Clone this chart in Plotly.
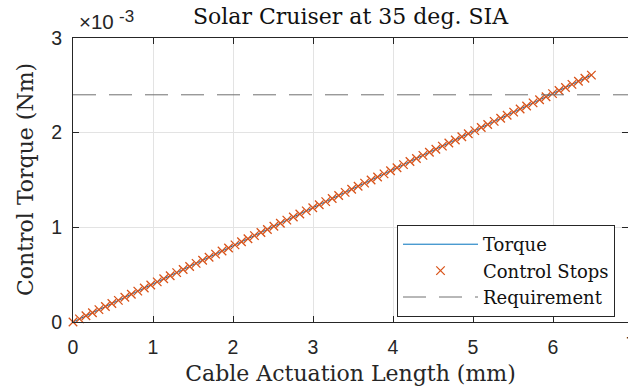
import plotly.graph_objects as go

# Cable actuation length (mm) at each control stop
cable_length_mm = [
    0.000, 0.081, 0.162, 0.243, 0.324, 0.405, 0.486, 0.567, 0.648, 0.729,
    0.810, 0.891, 0.972, 1.053, 1.134, 1.215, 1.296, 1.377, 1.458, 1.539,
    1.620, 1.701, 1.782, 1.863, 1.944, 2.025, 2.106, 2.187, 2.268, 2.349,
    2.430, 2.511, 2.592, 2.673, 2.754, 2.835, 2.916, 2.997, 3.078, 3.159,
    3.240, 3.321, 3.402, 3.483, 3.564, 3.645, 3.726, 3.807, 3.888, 3.969,
    4.050, 4.131, 4.212, 4.293, 4.374, 4.455, 4.536, 4.617, 4.698, 4.779,
    4.860, 4.941, 5.022, 5.103, 5.184, 5.265, 5.346, 5.427, 5.508, 5.589,
    5.670, 5.751, 5.832, 5.913, 5.994, 6.075, 6.156, 6.237, 6.318, 6.399,
    6.480,
]

# Control torque in units of 1e-3 Nm
torque_e3_nm = [
    0.0000, 0.0326, 0.0652, 0.0978, 0.1304, 0.1630, 0.1956, 0.2282, 0.2608, 0.2934,
    0.3260, 0.3586, 0.3912, 0.4238, 0.4564, 0.4890, 0.5216, 0.5542, 0.5868, 0.6194,
    0.6520, 0.6846, 0.7172, 0.7498, 0.7824, 0.8150, 0.8476, 0.8802, 0.9128, 0.9454,
    0.9780, 1.0106, 1.0432, 1.0758, 1.1084, 1.1410, 1.1736, 1.2062, 1.2388, 1.2714,
    1.3040, 1.3366, 1.3692, 1.4018, 1.4344, 1.4670, 1.4996, 1.5322, 1.5648, 1.5974,
    1.6300, 1.6626, 1.6952, 1.7278, 1.7604, 1.7930, 1.8256, 1.8582, 1.8908, 1.9234,
    1.9560, 1.9886, 2.0212, 2.0538, 2.0864, 2.1190, 2.1516, 2.1842, 2.2168, 2.2494,
    2.2820, 2.3146, 2.3472, 2.3798, 2.4124, 2.4450, 2.4776, 2.5102, 2.5428, 2.5754,
    2.6080,
]

requirement_e3_nm = 2.4
x_range = [0, 6.9375]
x_ticks = [0, 1, 2, 3, 4, 5, 6]
y_ticks = [0, 1, 2, 3]
y_tick_text = ["0", "1", "2", "3"]

SERIF = "DejaVu Serif"
SANS = "Liberation Sans, Arial, sans-serif"
AX = "#262626"
GRID = "#e3e3e3"
TICK_SIZE = 19.5

PLOT_W = 628 - 73
PLOT_H = 392 - 38 - 70

fig = go.Figure()

fig.add_trace(go.Scatter(
    x=cable_length_mm, y=torque_e3_nm, mode="lines", name="Torque",
    line=dict(color="#0072BD", width=1),
))
fig.add_trace(go.Scatter(
    x=cable_length_mm, y=torque_e3_nm, mode="markers", name="Control Stops",
    marker=dict(symbol="x-thin", size=8.5, line=dict(color="#D95319", width=1.3)),
    cliponaxis=False,
))
fig.add_trace(go.Scatter(
    x=x_range, y=[requirement_e3_nm, requirement_e3_nm], mode="lines",
    name="Requirement",
    line=dict(color="#707070", width=1, dash="23px,13px"),
))

fig.update_layout(
    width=628, height=392,
    margin=dict(l=73, r=0, t=38, b=70),
    paper_bgcolor="white", plot_bgcolor="white",
    font=dict(family=SANS, size=TICK_SIZE, color=AX),
    showlegend=True,
    legend=dict(
        x=0.5838, y=0.3415, xanchor="left", yanchor="top",
        bgcolor="white", bordercolor=AX, borderwidth=1,
        font=dict(family=SERIF, size=18, color="#111111"),
        itemwidth=75, tracegroupgap=0,
    ),
)

fig.update_xaxes(
    range=x_range, tickvals=x_ticks,
    showgrid=True, gridcolor=GRID, gridwidth=1, zeroline=False,
    showline=True, linecolor=AX, linewidth=1, mirror="ticks",
    ticks="inside", ticklen=6, tickcolor=AX, ticklabelstandoff=8,
    tickfont=dict(family=SANS, size=TICK_SIZE, color=AX),
    title=dict(text="Cable Actuation Length (mm)",
               font=dict(family=SERIF, size=22, color=AX), standoff=8),
)
fig.update_yaxes(
    range=[0, 3], tickvals=y_ticks, ticktext=y_tick_text,
    showgrid=True, gridcolor=GRID, gridwidth=1, zeroline=False,
    showline=True, linecolor=AX, linewidth=1, mirror="ticks",
    ticks="inside", ticklen=6, tickcolor=AX, ticklabelstandoff=6,
    tickfont=dict(family=SANS, size=TICK_SIZE, color=AX),
)

# Y axis title, placed by pixel offset from the plot's left edge
fig.add_annotation(
    xref="paper", yref="paper", x=(25 - 73) / PLOT_W, y=0.5,
    xanchor="center", yanchor="middle", textangle=-90,
    text="Control Torque (Nm)", showarrow=False,
    font=dict(family=SERIF, size=22, color=AX),
)

# Axis exponent: "×10" with a raised "-3"
fig.add_annotation(
    xref="paper", yref="paper", x=(77 - 73) / PLOT_W, y=1 + (38 - 35) / PLOT_H,
    xanchor="left", yanchor="bottom",
    text="×10", showarrow=False,
    font=dict(family=SANS, size=20.5, color=AX),
)
fig.add_annotation(
    xref="paper", yref="paper", x=(117 - 73) / PLOT_W, y=1 + (38 - 28) / PLOT_H,
    xanchor="left", yanchor="bottom",
    text="-3", showarrow=False,
    font=dict(family=SANS, size=17, color=AX),
)

# Last x tick label, mostly beyond the right edge
fig.add_annotation(
    xref="paper", yref="paper", x=(7 - x_range[0]) / (x_range[1] - x_range[0]),
    y=0, xanchor="center", yanchor="top", yshift=-9, xshift=-2,
    text="7", showarrow=False, font=dict(family=SANS, size=TICK_SIZE, color=AX),
)

# Chart title
fig.add_annotation(
    xref="paper", yref="paper", x=0.5, y=1 + (38 - 16) / PLOT_H,
    xanchor="center", yanchor="middle",
    text="Solar Cruiser at 35 deg. SIA", showarrow=False,
    font=dict(family=SERIF, size=22, color="#111111"),
)

fig.write_html("out.html")
